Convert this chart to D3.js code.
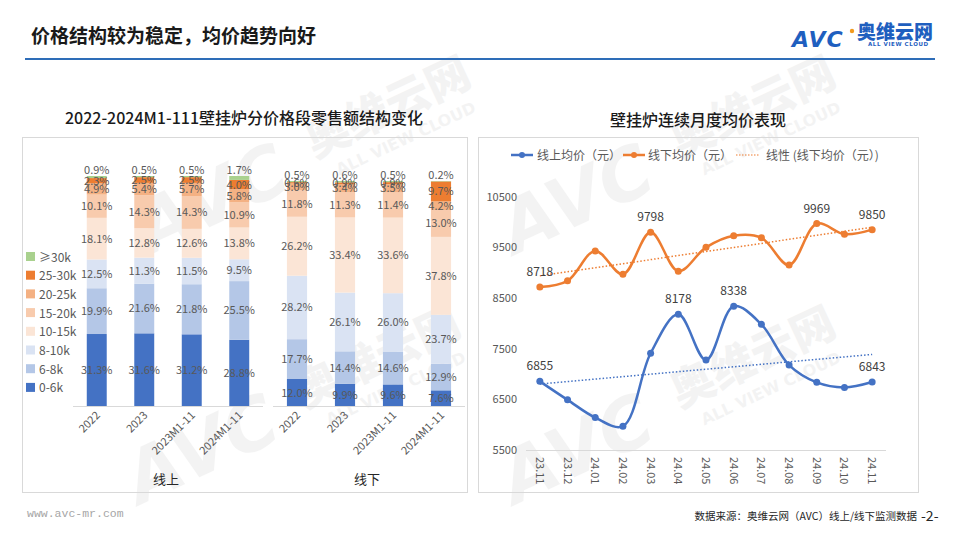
<!DOCTYPE html>
<html><head><meta charset="utf-8">
<script src="https://cdn.jsdelivr.net/npm/d3@7"></script>
<style>
body{margin:0;background:#fff}
svg{display:block;font-family:"Noto Sans CJK SC","Noto Sans",sans-serif}
</style>
</head><body>
<svg id="c" width="960" height="540"></svg>
<script>
// ---------- data ----------
const years = ["2022", "2023", "2023M1-11", "2024M1-11"];
const segments = ["0-6k", "6-8k", "8-10k", "10-15k", "15-20k", "20-25k", "25-30k", "≥30k"];
const onlineShare = [
  [31.3, 19.9, 12.5, 18.1, 10.1, 4.9, 2.3, 0.9],
  [31.6, 21.6, 11.3, 12.8, 14.3, 5.4, 2.5, 0.5],
  [31.2, 21.8, 11.5, 12.6, 14.3, 5.7, 2.5, 0.5],
  [28.8, 25.5, 9.5, 13.8, 10.9, 5.8, 4.0, 1.7]
];
const offlineShare = [
  [12.0, 17.7, 28.2, 26.2, 11.8, 3.0, 0.6, 0.5],
  [9.9, 14.4, 26.1, 33.4, 11.3, 3.4, 0.9, 0.6],
  [9.6, 14.6, 26.0, 33.6, 11.4, 3.5, 0.9, 0.5],
  [7.6, 12.9, 23.7, 37.8, 13.0, 4.2, 9.7, 0.2]
];
const groupNames = ["线上", "线下"];
const segColors = ["#4472C4", "#B4C7E7", "#DAE3F3", "#FBE5D6", "#F8CBAD", "#F4B183", "#ED7D31", "#A9D18E"];

const months = ["23.11", "23.12", "24.01", "24.02", "24.03", "24.04", "24.05", "24.06", "24.07", "24.08", "24.09", "24.10", "24.11"];
const onlinePrice = [6855, 6490, 6140, 5970, 7410, 8178, 7275, 8338, 7980, 7177, 6835, 6736, 6843];
const offlinePrice = [8718, 8840, 9430, 8970, 9798, 9030, 9500, 9730, 9690, 9150, 9969, 9760, 9850];
const priceTicks = [5500, 6500, 7500, 8500, 9500, 10500];
const onlineLabeled = ["23.11", "24.04", "24.06", "24.11"];
const offlineLabeled = ["23.11", "24.03", "24.09", "24.11"];
const seriesNames = ["线上均价（元）", "线下均价（元）", "线性 (线下均价（元）)"];
const lineColors = ["#4472C4", "#ED7D31"];

// ---------- setup ----------
const svg = d3.select("#c");
const labelGray = "#595959";

// watermarks
function watermark(x, y) {
  const g = svg.append("g").attr("transform", `translate(${x},${y}) rotate(-25)`)
    .attr("opacity", 0.045).attr("fill", "#000");
  g.append("text").attr("x", 0).attr("y", 0).attr("font-size", 72).attr("font-weight", 900)
    .attr("font-style", "italic").style("font-family", "DejaVu Sans").text("AVC");
  g.append("text").attr("x", 190).attr("y", -18).attr("font-size", 44).attr("font-weight", 900).text("奥维云网");
  g.append("text").attr("x", 205).attr("y", 8).attr("font-size", 16).attr("font-weight", 700)
    .style("font-family", "DejaVu Sans").text("ALL VIEW CLOUD");
}
watermark(140, 505);
watermark(515, 505);
watermark(150, 255);
watermark(515, 255);

// header
svg.append("text").attr("x", 31).attr("y", 43).attr("font-size", 19).attr("font-weight", 700)
  .attr("fill", "#1a1a1a").text("价格结构较为稳定，均价趋势向好");
svg.append("line").attr("x1", 25).attr("x2", 935).attr("y1", 59).attr("y2", 59)
  .attr("stroke", "#2E6DB8").attr("stroke-width", 2);
// logo
svg.append("text").attr("x", 792).attr("y", 47).attr("font-size", 22).attr("font-weight", 900)
  .attr("font-style", "italic").style("font-family", "DejaVu Sans").attr("fill", "#1F5FBF")
  .attr("letter-spacing", 1).text("AVC");
svg.append("circle").attr("cx", 852).attr("cy", 31).attr("r", 2.2).attr("fill", "#F39A1E");
svg.append("text").attr("x", 857).attr("y", 39).attr("font-size", 19).attr("font-weight", 900)
  .attr("fill", "#1F5FBF").text("奥维云网");
svg.append("text").attr("x", 868).attr("y", 46).attr("font-size", 5.5).attr("font-weight", 700)
  .style("font-family", "DejaVu Sans").attr("fill", "#1F5FBF").attr("letter-spacing", 0.6).text("ALL VIEW CLOUD");

// panels
svg.append("rect").attr("x", 22.5).attr("y", 137.5).attr("width", 445).attr("height", 355)
  .attr("fill", "none").attr("stroke", "#D9D9D9");
svg.append("rect").attr("x", 478.5).attr("y", 137.5).attr("width", 440).attr("height", 355)
  .attr("fill", "none").attr("stroke", "#D9D9D9");

svg.append("text").attr("x", 244).attr("y", 124).attr("text-anchor", "middle").attr("font-size", 16)
  .attr("font-weight", 500).attr("fill", "#1a1a1a").text("2022-2024M1-111壁挂炉分价格段零售额结构变化");
svg.append("text").attr("x", 698).attr("y", 126).attr("text-anchor", "middle").attr("font-size", 16)
  .attr("font-weight", 500).attr("fill", "#1a1a1a").text("壁挂炉连续月度均价表现");

// ---------- stacked bars ----------
function drawGroup(shares, x0, x1, yTop, yBase, name) {
  const rows = years.map((yr, i) => {
    const o = { year: yr };
    segments.forEach((s, j) => o[s] = shares[i][j]);
    return o;
  });
  const stack = d3.stack().keys(segments).offset(d3.stackOffsetExpand)(rows);
  const x = d3.scaleBand().domain(years).range([x0, x1]).paddingInner(0.58).paddingOuter(0.29);
  const y = d3.scaleLinear().domain([0, 1]).range([yBase, yTop]);
  const g = svg.append("g");
  stack.forEach((layer, j) => {
    g.selectAll(null).data(layer).enter().append("rect")
      .attr("x", d => x(d.data.year)).attr("width", x.bandwidth())
      .attr("y", d => y(d[1])).attr("height", d => y(d[0]) - y(d[1]))
      .attr("fill", segColors[j]);
  });
  stack.forEach((layer, j) => {
    const last = j === segments.length - 1;
    g.selectAll(null).data(layer).enter().append("text")
      .attr("x", d => x(d.data.year) + x.bandwidth() / 2)
      .attr("y", d => last ? y(d[1]) - 2 : (y(d[0]) + y(d[1])) / 2 + 4)
      .attr("text-anchor", "middle").attr("font-size", 11).attr("fill", labelGray)
      .text(d => d.data[segments[j]].toFixed(1) + "%");
  });
  g.append("line").attr("x1", x0).attr("x2", x1).attr("y1", yBase + 0.5).attr("y2", yBase + 0.5)
    .attr("stroke", "#D9D9D9");
  years.forEach(yr => {
    const cx = x(yr) + x.bandwidth() / 2;
    g.append("text").attr("transform", `translate(${cx + 4},${yBase + 10}) rotate(-45)`)
      .attr("text-anchor", "end").attr("font-size", 11).attr("fill", labelGray).text(yr);
  });
  g.append("text").attr("x", (x0 + x1) / 2 - 2).attr("y", yBase + 78).attr("text-anchor", "middle")
    .attr("font-size", 13).attr("fill", "#262626").text(name);
}
drawGroup(onlineShare, 73, 263, 176, 406, groupNames[0]);
drawGroup(offlineShare, 273, 465, 181, 406, groupNames[1]);

// legend (left)
segments.slice().reverse().forEach((s, i) => {
  const yy = 257 + i * 18.7;
  const j = segments.length - 1 - i;
  svg.append("rect").attr("x", 26).attr("y", yy - 5).attr("width", 9).attr("height", 9).attr("fill", segColors[j]);
  svg.append("text").attr("x", 39).attr("y", yy + 4.5).attr("font-size", 12).attr("fill", labelGray).text(s);
});

// ---------- line chart ----------
const xs = d3.scaleBand().domain(months).range([526, 886]);
const ys = d3.scaleLinear().domain([5500, 10500]).range([450, 196.7]);
const cxm = m => xs(m) + xs.bandwidth() / 2;

priceTicks.forEach(t => {
  svg.append("text").attr("x", 517).attr("y", ys(t) + 4).attr("text-anchor", "end")
    .attr("font-size", 11).attr("fill", labelGray).text(t);
});
svg.append("line").attr("x1", 526).attr("x2", 886).attr("y1", ys(5500) + 0.5).attr("y2", ys(5500) + 0.5)
  .attr("stroke", "#D9D9D9");
months.forEach(m => {
  svg.append("text").attr("transform", `translate(${cxm(m) - 4},${457}) rotate(90)`)
    .attr("text-anchor", "start").attr("font-size", 11).attr("fill", labelGray).text(m);
});

function trend(vals) {
  const n = vals.length, mx = (n - 1) / 2, my = d3.mean(vals);
  let num = 0, den = 0;
  vals.forEach((v, i) => { num += (i - mx) * (v - my); den += (i - mx) * (i - mx); });
  const b = num / den, a = my - b * mx;
  return [a, a + b * (n - 1)];
}
[onlinePrice, offlinePrice].forEach((vals, k) => {
  const [s, e] = trend(vals);
  svg.append("line").attr("x1", cxm(months[0])).attr("x2", cxm(months[months.length - 1]))
    .attr("y1", ys(s)).attr("y2", ys(e)).attr("stroke", lineColors[k]).attr("stroke-width", 1.5)
    .attr("stroke-dasharray", "1.5,2");
});

const line = d3.line().x((d, i) => cxm(months[i])).y(d => ys(d)).curve(d3.curveCatmullRom.alpha(0.5));
[onlinePrice, offlinePrice].forEach((vals, k) => {
  svg.append("path").attr("d", line(vals)).attr("fill", "none").attr("stroke", lineColors[k])
    .attr("stroke-width", 2.5);
  svg.selectAll(null).data(vals).enter().append("circle")
    .attr("cx", (d, i) => cxm(months[i])).attr("cy", d => ys(d)).attr("r", 3.5).attr("fill", lineColors[k]);
  const labeled = k === 0 ? onlineLabeled : offlineLabeled;
  vals.forEach((v, i) => {
    if (!labeled.includes(months[i])) return;
    svg.append("text").attr("x", cxm(months[i])).attr("y", ys(v) - 11).attr("text-anchor", "middle")
      .attr("font-size", 12).attr("fill", "#404040").text(v);
  });
});

// legend (right)
const lg = svg.append("g");
[[511, 533, 537], [623, 645, 648]].forEach((p, k) => {
  lg.append("line").attr("x1", p[0]).attr("x2", p[1]).attr("y1", 155).attr("y2", 155)
    .attr("stroke", lineColors[k]).attr("stroke-width", 2.5);
  lg.append("circle").attr("cx", (p[0] + p[1]) / 2).attr("cy", 155).attr("r", 3).attr("fill", lineColors[k]);
  lg.append("text").attr("x", p[2]).attr("y", 159.5).attr("font-size", 12).attr("fill", labelGray).text(seriesNames[k]);
});
lg.append("line").attr("x1", 736).attr("x2", 760).attr("y1", 155).attr("y2", 155)
  .attr("stroke", lineColors[1]).attr("stroke-width", 1.2).attr("stroke-dasharray", "1.5,1.5");
lg.append("text").attr("x", 766).attr("y", 159.5).attr("font-size", 12).attr("fill", labelGray).text(seriesNames[2]);

// footer
svg.append("text").attr("x", 27).attr("y", 517).attr("font-size", 11.5).style("font-family", "Liberation Mono")
  .attr("fill", "#A6A6A6").text("www.avc-mr.com");
svg.append("text").attr("x", 917).attr("y", 520).attr("text-anchor", "end").attr("font-size", 10.5)
  .attr("fill", "#262626").text("数据来源：奥维云网（AVC）线上/线下监测数据");
svg.append("text").attr("x", 921).attr("y", 521).attr("font-size", 14).attr("fill", "#262626").text("-2-");
</script>
</body></html>
